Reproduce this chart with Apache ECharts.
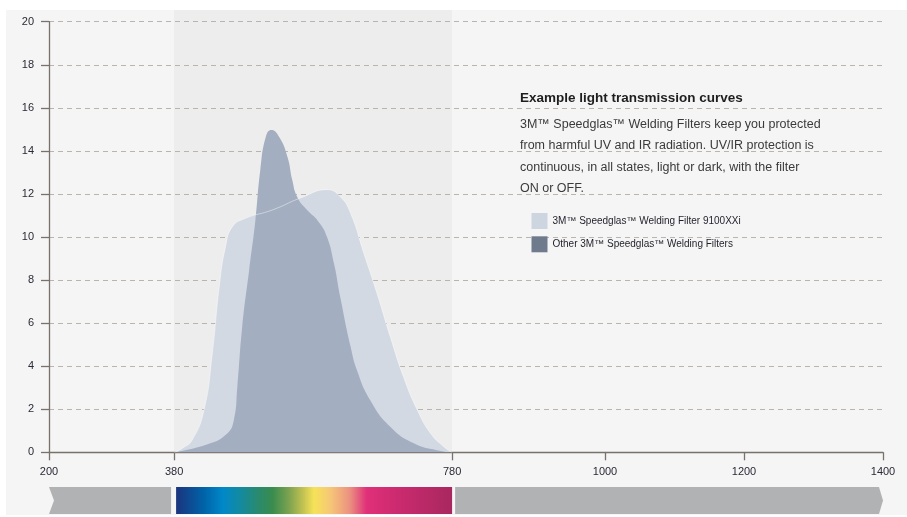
<!DOCTYPE html>
<html>
<head>
<meta charset="utf-8">
<title>Example light transmission curves</title>
<script src="https://cdn.jsdelivr.net/npm/echarts@6/dist/echarts.min.js"></script>
<style>
  html, body { margin: 0; padding: 0; background: #fff; }
  #chart { width: 907px; height: 517px; }
</style>
</head>
<body>
<div id="chart"></div>
<script>
// wavelength (nm) and transmission values
var wl9100 = [380, 392, 406, 423, 435, 445, 454, 464, 483, 521, 564, 600, 619, 634, 653, 672, 691, 710, 730, 749, 768, 780];
var val9100 = [0, 0.19, 0.57, 1.96, 4.6, 7.7, 9.55, 10.48, 10.87, 11.25, 11.84, 12.2, 11.87, 11.1, 9.24, 7.38, 5.37, 3.51, 1.96, 0.88, 0.26, 0];

var wlOther = [380, 425, 454, 466, 471, 478, 488, 497, 504, 512, 520, 531, 543, 550, 557, 569, 588, 600, 610, 619, 634, 643, 662, 691, 725, 758, 780];
var valOther = [0, 0.34, 0.8, 1.5, 3.05, 5.83, 8.47, 10.79, 13.1, 14.66, 14.97, 14.66, 13.73, 12.65, 11.87, 11.33, 10.7, 10.0, 8.78, 7.23, 4.9, 3.82, 2.43, 1.19, 0.42, 0.1, 0];

var xTicks = [200, 380, 780, 1000, 1200, 1400];
var visibleRange = [380, 780];

var name9100 = '3M™ Speedglas™ Welding Filter 9100XXi';
var nameOther = 'Other 3M™ Speedglas™ Welding Filters';

var font = '"Liberation Sans", Arial, sans-serif';

// zip x / y arrays into points
function zip(xs, ys) {
  return xs.map(function (x, i) { return [x, ys[i]]; });
}

var myChart = echarts.init(document.getElementById('chart'));

var option = {
  backgroundColor: '#fff',
  animation: false,
  textStyle: { fontFamily: font },
  title: {
    text: 'Example light transmission curves',
    subtext: '3M™ Speedglas™ Welding Filters keep you protected\nfrom harmful UV and IR radiation. UV/IR protection is\ncontinuous, in all states, light or dark, with the filter\nON or OFF.',
    left: 520,
    top: 91,
    padding: 0,
    itemGap: 9,
    textStyle: { fontFamily: font, fontSize: 13.5, fontWeight: 'bold', color: '#1e1e1e' },
    subtextStyle: { fontFamily: font, fontSize: 12.5, lineHeight: 21.3, color: '#3a3a3a' }
  },
  legend: {
    orient: 'vertical',
    left: 531.5,
    top: 213,
    padding: 0,
    itemWidth: 16,
    itemHeight: 16,
    itemGap: 7.3,
    icon: 'rect',
    textStyle: { fontFamily: font, fontSize: 10, color: '#1f1f2a' },
    data: [
      { name: name9100, itemStyle: { color: '#cdd5e0' } },
      { name: nameOther, itemStyle: { color: '#6f7a8c' } }
    ]
  },
  grid: { left: 49, right: 24, top: 21.7, bottom: 64.7 },
  xAxis: {
    type: 'value',
    min: 200,
    max: 1400,
    axisLine: { lineStyle: { color: '#77726c', width: 1.3 } },
    axisTick: { show: true, length: 8, customValues: xTicks, lineStyle: { color: '#77726c', width: 1.3 } },
    axisLabel: {
      customValues: xTicks, margin: 14, fontSize: 11, color: '#2a2a36', fontFamily: font,
      formatter: function (v) { return String(v); }
    },
    splitLine: { show: false }
  },
  yAxis: {
    type: 'value',
    min: 0,
    max: 20,
    interval: 2,
    axisLine: { show: true, lineStyle: { color: '#77726c', width: 1.3 } },
    axisTick: { show: true, length: 8, lineStyle: { color: '#77726c', width: 1.3 } },
    axisLabel: { margin: 15, fontSize: 11, color: '#2a2a36', fontFamily: font },
    splitLine: { show: true, lineStyle: { color: '#b9b5ae', type: [5, 4], width: 1 } }
  },
  series: [
    {
      name: name9100,
      type: 'line',
      z: 2,
      smooth: 0.5,
      symbol: 'none',
      lineStyle: { width: 0 },
      itemStyle: { color: '#cdd5e0' },
      areaStyle: { color: '#d2d9e3', opacity: 1 },
      data: zip(wl9100, val9100)
    },
    {
      name: nameOther,
      type: 'line',
      z: 3,
      smooth: 0.5,
      symbol: 'none',
      lineStyle: { width: 0 },
      itemStyle: { color: '#6f7a8c' },
      areaStyle: { color: '#a3aec0', opacity: 1 },
      data: zip(wlOther, valOther)
    },
    {
      // faint edge of the 9100XXi curve showing through the darker one
      name: 'edge',
      type: 'line',
      z: 4,
      smooth: 0.5,
      symbol: 'none',
      silent: true,
      lineStyle: { width: 1, color: 'rgba(255,255,255,0.45)' },
      data: zip(wl9100, val9100)
    }
  ]
};

myChart.setOption(option);

// panel, visible-light band and spectrum strip, placed from the axis scale
var px = function (v) { return myChart.convertToPixel({ xAxisIndex: 0 }, v); };
var y0 = myChart.convertToPixel({ yAxisIndex: 0 }, 0);
var x200 = px(xTicks[0]), x380 = px(visibleRange[0]), x780 = px(visibleRange[1]), x1400 = px(xTicks[xTicks.length - 1]);
var barTop = 487, barBottom = 514, barMid = (barTop + barBottom) / 2;

myChart.setOption({
  graphic: [
    {
      type: 'rect', z: -10, silent: true,
      shape: { x: 6, y: 10, width: 901, height: 505 },
      style: { fill: '#f5f5f5' }
    },
    {
      type: 'rect', z: -5, silent: true,
      shape: { x: x380, y: 10, width: x780 - x380, height: y0 - 10 },
      style: { fill: '#ecedec' }
    },
    {
      type: 'polygon', silent: true,
      shape: { points: [[x200, barTop], [x380 - 3, barTop], [x380 - 3, barBottom], [x200, barBottom], [x200 + 5, barMid]] },
      style: { fill: '#b1b2b4' }
    },
    {
      type: 'rect', silent: true,
      shape: { x: x380 + 2, y: barTop, width: x780 - x380 - 2, height: barBottom - barTop },
      style: {
        fill: new echarts.graphic.LinearGradient(0, 0, 1, 0, [
          { offset: 0, color: '#1b347e' },
          { offset: 0.1, color: '#0063a8' },
          { offset: 0.17, color: '#0088c8' },
          { offset: 0.235, color: '#148a9e' },
          { offset: 0.3, color: '#2a8a6c' },
          { offset: 0.35, color: '#3a8c4e' },
          { offset: 0.41, color: '#7ea350' },
          { offset: 0.46, color: '#c2c252' },
          { offset: 0.5, color: '#f6e358' },
          { offset: 0.56, color: '#f6c678' },
          { offset: 0.63, color: '#eb9080' },
          { offset: 0.69, color: '#e0307a' },
          { offset: 0.8, color: '#cc2a70' },
          { offset: 1, color: '#a8285e' }
        ])
      }
    },
    {
      type: 'polygon', silent: true,
      shape: { points: [[x780 + 3, barTop], [x1400 - 4, barTop], [x1400, barMid], [x1400 - 4, barBottom], [x780 + 3, barBottom]] },
      style: { fill: '#b1b2b4' }
    }
  ]
});
</script>
</body>
</html>
